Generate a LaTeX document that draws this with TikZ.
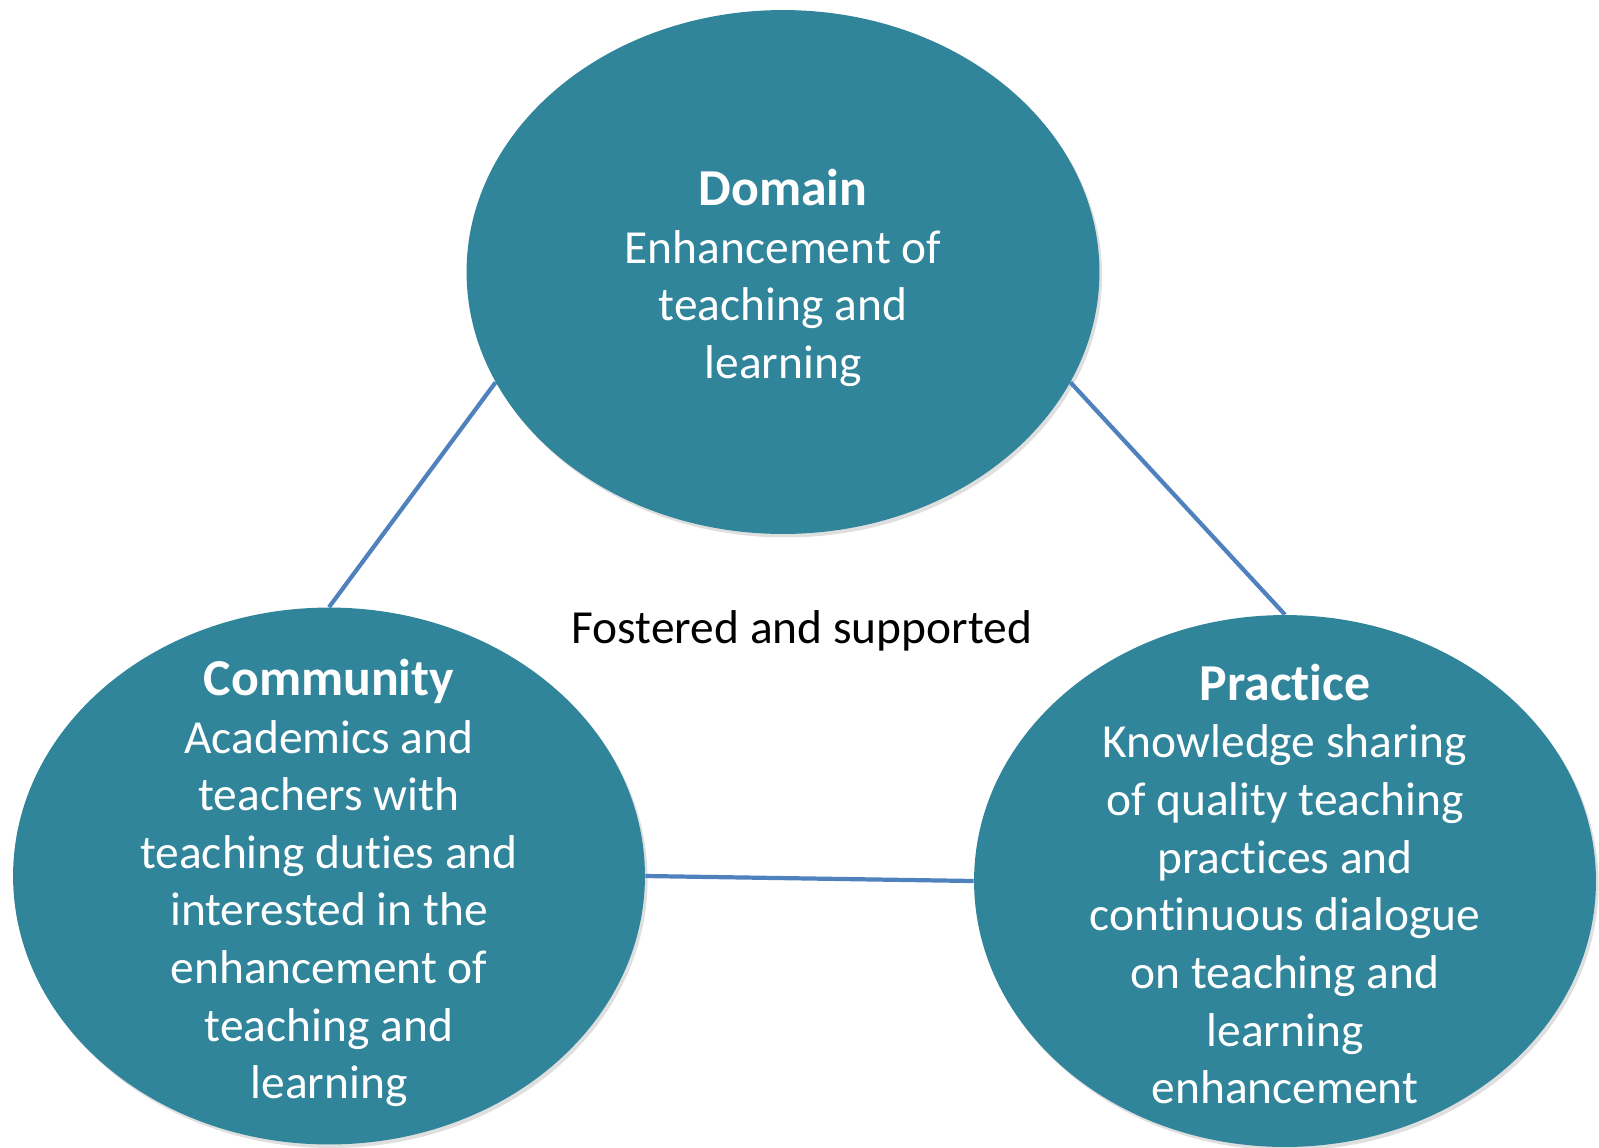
\documentclass[tikz,border=0pt]{standalone}
\usepackage{fontspec}
\setmainfont{Carlito}[Ligatures={NoCommon,NoContextual,NoRequired}, RawFeature={-liga;-clig;-calt;-dlig}]
\usetikzlibrary{shapes.geometric,shadows}

\definecolor{copteal}{RGB}{49,133,155}
\definecolor{copline}{RGB}{79,129,189}

\def\bodyfont{\fontsize{27}{32.8}\selectfont}
\def\headfont{\fontsize{29.5}{32.8}\selectfont\bfseries}

\tikzset{
  blob/.style={ellipse, fill=copteal, inner sep=0pt,
    drop shadow={opacity=0.25, shadow xshift=1.5pt, shadow yshift=-2pt}},
  blobtext/.style={text=white, align=center, font=\bodyfont},
  link/.style={copline, line width=2.4pt}
}

\begin{document}
\begin{tikzpicture}[x=0.02cm, y=-0.02cm]
\useasboundingbox (0,0) rectangle (1599,1147);
% The three ellipses
\node[blob, minimum width=12.66cm, minimum height=10.48cm] (dom) at (783,272) {};
\node[blob, minimum width=12.64cm, minimum height=10.74cm] (com) at (329,876) {};
\node[blob, minimum width=12.44cm, minimum height=10.64cm] (pra) at (1285,881) {};
% Connectors
\draw[link] (dom.201) -- (com.north);
\draw[link] (dom.339) -- (pra.north);
\draw[link] (com.east) -- (pra.west);
% Texts
\node[blobtext] (domtxt) at (783,278) {{\headfont Domain}\\Enhancement of\\teaching and\\learning};
\node[blobtext] (comtxt) at (329,883) {{\headfont Community}\\Academics and\\teachers with\\teaching duties and\\interested in the\\enhancement of\\teaching and\\learning};
\node[blobtext] (pratxt) at (1285,884) {{\headfont Practice}\\Knowledge sharing\\of quality teaching\\practices and\\continuous dialogue\\on teaching and\\learning\\enhancement};
\node[font=\bodyfont] (fost) at (802,631) {Fostered and supported};
\end{tikzpicture}
\end{document}
